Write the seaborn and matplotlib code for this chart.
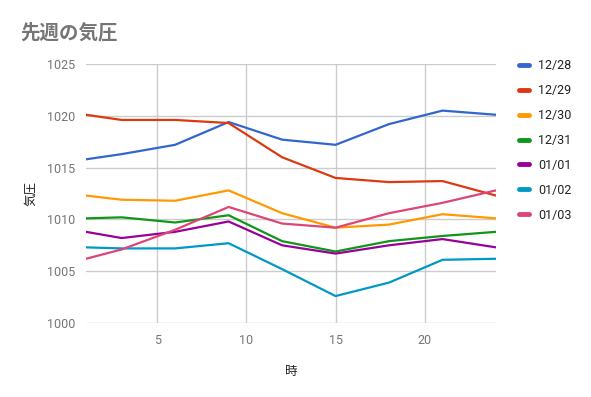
import matplotlib
matplotlib.use("Agg")
import matplotlib.pyplot as plt
import seaborn as sns
import pandas as pd
from matplotlib.lines import Line2D

hours = [1, 3, 6, 9, 12, 15, 18, 21, 24]
dates = ["12/28", "12/29", "12/30", "12/31", "01/01", "01/02", "01/03"]
p_1228 = [1015.8, 1016.3, 1017.2, 1019.4, 1017.7, 1017.2, 1019.2, 1020.5, 1020.1]
p_1229 = [1020.1, 1019.6, 1019.6, 1019.3, 1016.0, 1014.0, 1013.6, 1013.7, 1012.3]
p_1230 = [1012.3, 1011.9, 1011.8, 1012.8, 1010.6, 1009.2, 1009.5, 1010.5, 1010.1]
p_1231 = [1010.1, 1010.2, 1009.7, 1010.4, 1007.9, 1006.9, 1007.9, 1008.4, 1008.8]
p_0101 = [1008.8, 1008.2, 1008.8, 1009.8, 1007.5, 1006.7, 1007.5, 1008.1, 1007.3]
p_0102 = [1007.3, 1007.2, 1007.2, 1007.7, 1005.2, 1002.6, 1003.9, 1006.1, 1006.2]
p_0103 = [1006.2, 1007.1, 1009.0, 1011.2, 1009.6, 1009.2, 1010.6, 1011.6, 1012.8]
series = [p_1228, p_1229, p_1230, p_1231, p_0101, p_0102, p_0103]
colors = ["#3366cc", "#dc3912", "#ff9900", "#109618", "#990099", "#0099c6", "#dd4477"]
y_ticks = [1000, 1005, 1010, 1015, 1020, 1025]
x_ticks = [5, 10, 15, 20]

rows = []
for d, vals in zip(dates, series):
    for h, v in zip(hours, vals):
        rows.append({"時": h, "気圧": v, "日付": d})
df = pd.DataFrame(rows)

sns.set_theme(style="white")
plt.rcParams["font.family"] = ["Roboto", "Noto Sans CJK JP", "DejaVu Sans"]

fig = plt.figure(figsize=(5.91, 3.97), dpi=100)
ax = fig.add_axes([86 / 591, 1 - 323 / 397, (496 - 86) / 591, (323 - 64) / 397])

sns.lineplot(data=df, x="時", y="気圧", hue="日付", hue_order=dates,
             palette=colors, linewidth=1.6, ax=ax, legend=False)

ax.set_xlim(1, 24)
ax.set_ylim(1000, 1025)
ax.set_xticks(x_ticks)
ax.set_yticks(y_ticks)
ax.grid(True, color="#cccccc", linewidth=1)
ax.set_axisbelow(True)
for s in ax.spines.values():
    s.set_visible(False)
ax.tick_params(axis="both", length=0, labelsize=9, colors="#757575", pad=8)
ax.set_xlabel("時", fontsize=9, color="#222222", labelpad=13)
ax.set_ylabel("気圧", fontsize=9, color="#222222", labelpad=7)

fig.text(20 / 591, 1 - 33 / 397, "先週の気圧", fontsize=14, fontweight="bold",
         color="#757575", va="center", ha="left")

handles = [Line2D([0], [0], color=c, linewidth=3.5) for c in colors]
leg = fig.legend(handles, dates, loc="upper left",
                 bbox_to_anchor=(508 / 591, 1 - 48 / 397), frameon=False,
                 fontsize=9, handlelength=0.8, handletextpad=0.7,
                 labelspacing=0.95, labelcolor="#222222")

fig.savefig("out.png", dpi=100)
